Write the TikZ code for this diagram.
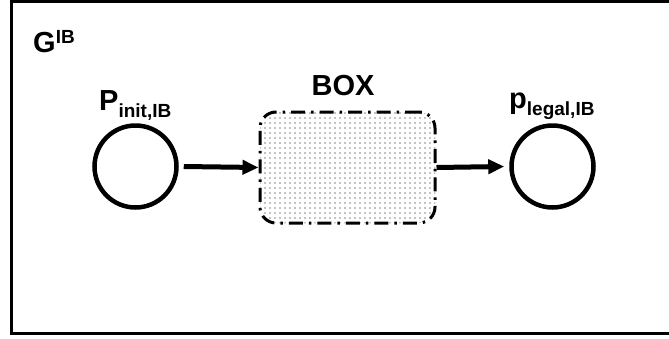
\documentclass[tikz,border=0pt]{standalone}
\usepackage{fontspec}
\setmainfont{Liberation Sans}
\usetikzlibrary{shapes.geometric, arrows.meta, positioning, patterns.meta}
\tikzstyle{place} = [circle, minimum size=82pt, inner sep=0pt, draw=black, line width=4.5pt]
\tikzstyle{blackbox} = [rectangle, rounded corners=16pt, minimum width=175pt, minimum height=111pt, draw=black, line width=3pt, dash pattern=on 14pt off 6pt on 2.5pt off 6pt, pattern={Dots[distance=5pt, radius=0.6pt]}]
\tikzstyle{arrow} = [line width=5pt, -{Triangle[length=16pt, width=14pt]}]
\tikzstyle{lbl} = [font=\fontsize{29}{34}\selectfont\bfseries, inner sep=0pt]
\newcommand{\lowsub}[1]{\raisebox{-7pt}{\fontsize{19}{22}\selectfont #1}}
\newcommand{\highsup}[1]{\raisebox{9pt}{\fontsize{19}{22}\selectfont #1}}

\begin{document}
\begin{tikzpicture}[x=1pt, y=-1pt]
\useasboundingbox (0,0) rectangle (669,338);
\clip (0,0) rectangle (669,338);
\draw [line width=3pt] (11,1) rectangle (675,333);

\node (graph) [lbl, anchor=base west] at (33,52) {G\highsup{IB}};

\node (init) [place] at (135.5,166.5) {};
\node (box) [blackbox] at (347.5,167.5) {};
\node (legal) [place] at (552.5,166.5) {};

\node (initlbl) [lbl, anchor=base west] at (99,110) {P\lowsub{init,IB}};
\node (boxlbl) [lbl, anchor=base] at (343,95) {BOX};
\node (legallbl) [lbl, anchor=base west] at (509,108) {p\lowsub{legal,IB}};

\draw [arrow] ([xshift=5pt]init.east) -- (box.west);
\draw [arrow] (box.east) -- ([xshift=-5pt]legal.west);

\end{tikzpicture}
\end{document}
